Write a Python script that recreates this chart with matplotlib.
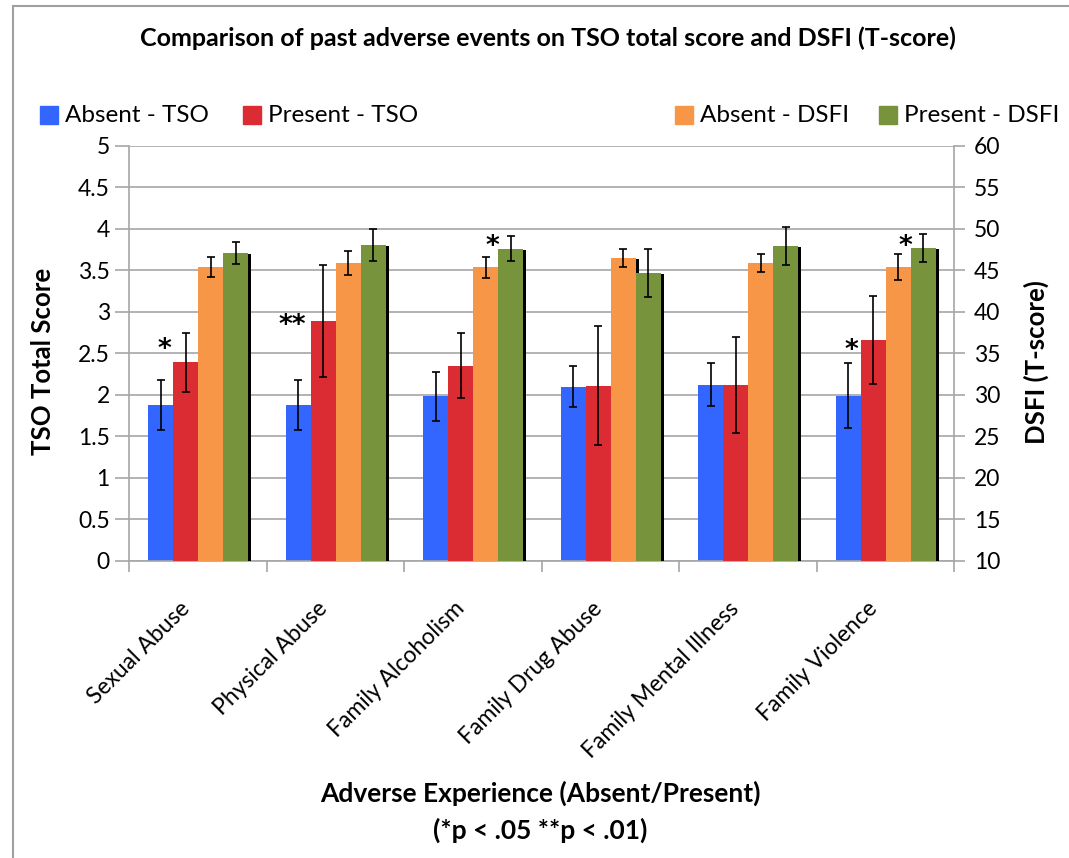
import numpy as np
import matplotlib.pyplot as plt
import matplotlib.patheffects as pe
from matplotlib.patches import Rectangle
from matplotlib.transforms import ScaledTranslation

plt.rcParams['font.family'] = ['Lato', 'DejaVu Sans']

categories = ['Sexual Abuse', 'Physical Abuse', 'Family Alcoholism',
              'Family Drug Abuse', 'Family Mental Illness', 'Family Violence']
series_names = ['Absent - TSO', 'Present - TSO', 'Absent - DSFI', 'Present - DSFI']

# TSO total score (left axis)
tso_absent = [1.88, 1.88, 1.98, 2.10, 2.12, 1.99]
tso_absent_err = [0.30, 0.30, 0.29, 0.25, 0.26, 0.39]
tso_present = [2.39, 2.89, 2.35, 2.11, 2.12, 2.66]
tso_present_err = [0.36, 0.67, 0.39, 0.72, 0.58, 0.53]

# DSFI T-score (right axis)
dsfi_absent = [45.4, 45.9, 45.4, 46.5, 45.9, 45.4]
dsfi_absent_err = [1.25, 1.45, 1.27, 1.09, 1.09, 1.55]
dsfi_present = [47.1, 48.1, 47.6, 44.7, 48.0, 47.7]
dsfi_present_err = [1.35, 1.93, 1.50, 2.87, 2.29, 1.69]

# significance marks: (category, text, series index it sits over, height on TSO scale)
sig_marks = [(0, '*', 0, 2.64), (1, '**', 0, 2.93), (2, '*', 2, 3.88),
             (5, '*', 0, 2.63), (5, '*', 2, 3.88)]

colors = ['#3366FF', '#DC2C33', '#F79646', '#77933C']
grid_c = '#A6A6A6'

W, H = 1069, 858
fig = plt.figure(figsize=(W / 100, H / 100), dpi=100)
L, R, T, B = 129.3, 954.3, 146, 560.7
ax = fig.add_axes([L / W, 1 - B / H, (R - L) / W, (B - T) / H])
ax2 = ax.twinx()

x = np.arange(len(categories))
w = 0.182
offs = [-1.5 * w, -0.5 * w, 0.5 * w, 1.5 * w]
shadow = [pe.SimplePatchShadow(offset=(2.2, -0.7), shadow_rgbFace='black', alpha=1.0), pe.Normal()]

vals = [tso_absent, tso_present, dsfi_absent, dsfi_present]
errs = [tso_absent_err, tso_present_err, dsfi_absent_err, dsfi_present_err]
axes = [ax, ax, ax2, ax2]
for i in range(4):
    a = axes[i]
    base = 0 if a is ax else 10
    h = np.array(vals[i]) - base
    a.bar(x + offs[i], h, width=w, bottom=base, color=colors[i], zorder=2 + i,
          path_effects=shadow, label=series_names[i])
    a.errorbar(x + offs[i], vals[i], yerr=errs[i], fmt='none', ecolor='black',
               elinewidth=1.2, capsize=3.2, capthick=1.2, zorder=10)

for cat, txt, s, yv in sig_marks:
    if txt == '**':
        dx = -0.045
    elif s == 2:
        dx = 0.05
    else:
        dx = 0.025
    ax.text(cat + offs[s] + dx, yv - 0.1, txt, ha='center', va='center', fontsize=19,
            fontweight='bold', zorder=12, family='DejaVu Sans')

ax.set_ylim(0, 5)
ax.set_yticks(np.arange(0, 5.01, 0.5))
ax.set_yticklabels(['0', '0.5', '1', '1.5', '2', '2.5', '3', '3.5', '4', '4.5', '5'])
ax2.set_ylim(10, 60)
ax2.set_yticks(np.arange(10, 61, 5))
ax.set_xlim(-0.5, 5.5)

ax.yaxis.grid(True, color=grid_c, lw=1.2)
ax.set_axisbelow(True)

for sp in ['top', 'right']:
    ax.spines[sp].set_visible(False)
for sp in ['top', 'left', 'bottom']:
    ax2.spines[sp].set_visible(False)
ax.spines['left'].set_color(grid_c)
ax.spines['bottom'].set_color(grid_c)
ax2.spines['right'].set_color(grid_c)
for sp in [ax.spines['left'], ax.spines['bottom'], ax2.spines['right']]:
    sp.set_linewidth(1.2)

ax.tick_params(axis='y', length=10, color=grid_c, width=1.2, labelsize=16.5, pad=4)
ax2.tick_params(axis='y', length=8, color=grid_c, width=1.2, labelsize=16.5, pad=6)

ax.set_xticks(np.arange(-0.5, 6, 1))
ax.set_xticklabels([])
ax.tick_params(axis='x', which='major', length=8, color=grid_c, width=1.2)
ax.set_xticks(x, minor=True)
ax.set_xticklabels(categories, minor=True, rotation=45, ha='right', va='center',
                   rotation_mode='anchor', fontsize=16.5)
ax.tick_params(axis='x', which='minor', length=0, pad=32)
for lbl in ax.get_xticklabels(minor=True):
    lbl.set_transform(lbl.get_transform() + ScaledTranslation(-0.12, 0, fig.dpi_scale_trans))

# titles and axis labels
fig.text(548 / W, 1 - 38 / H, 'Comparison of past adverse events on TSO total score and DSFI (T-score)',
         ha='center', va='center', fontsize=18, fontweight='bold')
fig.text(43 / W, 1 - 361 / H, 'TSO Total Score', rotation=90, ha='center', va='center',
         fontsize=18.5, fontweight='bold')
fig.text(1036 / W, 1 - 362 / H, 'DSFI (T-score)', rotation=90, ha='center', va='center',
         fontsize=18.5, fontweight='bold')
fig.text(540 / W, 1 - 793 / H, 'Adverse Experience (Absent/Present)', ha='center', va='center',
         fontsize=19, fontweight='bold')
fig.text(540 / W, 1 - 830 / H, '(*p < .05 **p < .01)', ha='center', va='center',
         fontsize=19, fontweight='bold')

# legend entries spread across the top
leg_x = [40, 243, 675, 879]
for i in range(4):
    fig.add_artist(Rectangle((leg_x[i] / W, 1 - 124 / H), 18 / W, 18 / H,
                             transform=fig.transFigure, color=colors[i]))
    fig.text((leg_x[i] + 25) / W, 1 - 115 / H, series_names[i], ha='left', va='center',
             fontsize=17.5)

# outer chart border
fig.add_artist(Rectangle((13 / W, -0.1), 1.2, 1.1 - 6 / H, transform=fig.transFigure,
                         fill=False, edgecolor='#A0A0A0', lw=1.5))

fig.savefig('out.png', dpi=100)
